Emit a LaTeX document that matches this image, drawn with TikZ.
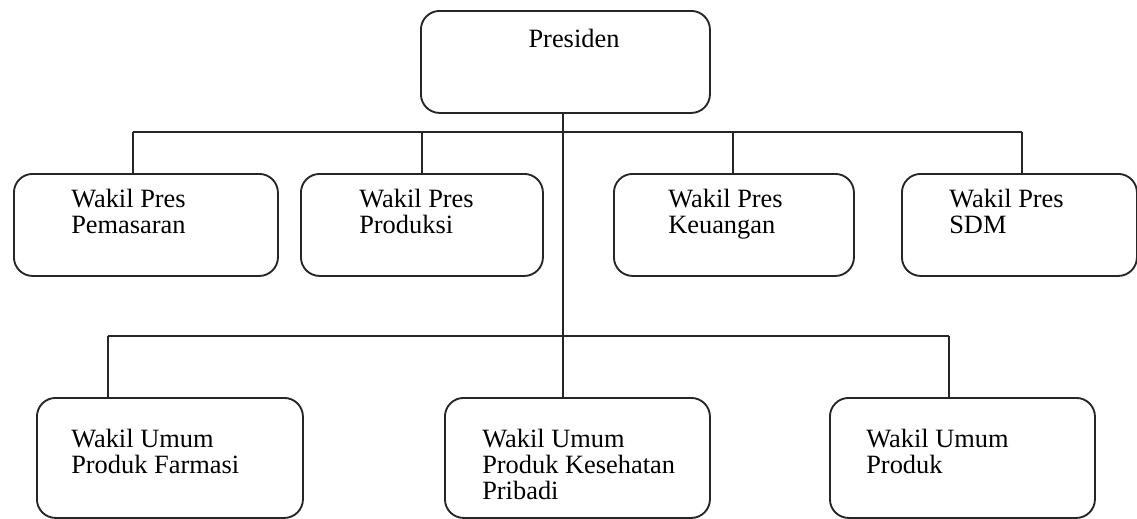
\documentclass[tikz,border=0pt]{standalone}
\usepackage{fontspec}
\setmainfont{Liberation Serif}
\begin{document}
\begin{tikzpicture}[x=0.75pt,y=-0.75pt,
  ink/.style={draw=black!85, line width=1.4pt},
  unit/.style={ink, rounded corners=14pt, anchor=north west, inner sep=0pt},
  label/.style={anchor=base west, inner sep=0pt, align=left,
    font=\fontsize{19.8pt}{19.5pt}\selectfont},
  link/.style={ink}]
\useasboundingbox (0,0) rectangle (1137,518);

% top level
\node[unit, minimum width=216.75pt, minimum height=76.5pt] (pres) at (420,10) {};
\node[label, anchor=base] (presT) at (574,47) {Presiden};

% vice presidents (labels placed by the baseline of their last line)
\node[unit, minimum width=198pt,    minimum height=76.5pt] (pem)  at (13,173) {};
\node[unit, minimum width=181.5pt,  minimum height=76.5pt] (prod) at (300,173) {};
\node[unit, minimum width=180pt,    minimum height=76.5pt] (keu)  at (613,173) {};
\node[unit, minimum width=176.25pt, minimum height=76.5pt] (sdm)  at (901,173) {};
\node[label] (pemT)  at (71,233)  {Wakil Pres\\Pemasaran};
\node[label] (prodT) at (359,233) {Wakil Pres\\Produksi};
\node[label] (keuT)  at (668,233) {Wakil Pres\\Keuangan};
\node[label] (sdmT)  at (949,233) {Wakil Pres\\SDM};

% general managers
\node[unit, minimum width=199.5pt,  minimum height=90pt] (farm) at (36,397) {};
\node[unit, minimum width=198.75pt, minimum height=90pt] (kes)  at (444,397) {};
\node[unit, minimum width=198.75pt, minimum height=90pt] (pu)   at (829,397) {};
\node[label] (farmT) at (71,473)  {Wakil Umum\\Produk Farmasi};
\node[label] (kesT)  at (482,499) {Wakil Umum\\Produk Kesehatan\\Pribadi};
\node[label] (puT)   at (866,473) {Wakil Umum\\Produk};

% bus junctions
\coordinate (upper) at (563,132);
\coordinate (lower) at (563,336);
\coordinate (jPem)  at (133,132);
\coordinate (jProd) at (422,132);
\coordinate (jKeu)  at (733,132);
\coordinate (jSdm)  at (1022,132);
\coordinate (jFarm) at (108,336);
\coordinate (jKes)  at (563,336);
\coordinate (jPu)   at (949,336);

% trunk and buses
\draw[link] (pres.south -| upper) -- (lower);
\draw[link] (jPem) -- (jSdm);
\draw[link] (jFarm) -- (jPu);

% drops to each unit
\draw[link] (jPem)  -- (jPem  |- pem.north);
\draw[link] (jProd) -- (jProd |- prod.north);
\draw[link] (jKeu)  -- (jKeu  |- keu.north);
\draw[link] (jSdm)  -- (jSdm  |- sdm.north);
\draw[link] (jFarm) -- (jFarm |- farm.north);
\draw[link] (jKes)  -- (jKes  |- kes.north);
\draw[link] (jPu)   -- (jPu   |- pu.north);
\end{tikzpicture}
\end{document}
